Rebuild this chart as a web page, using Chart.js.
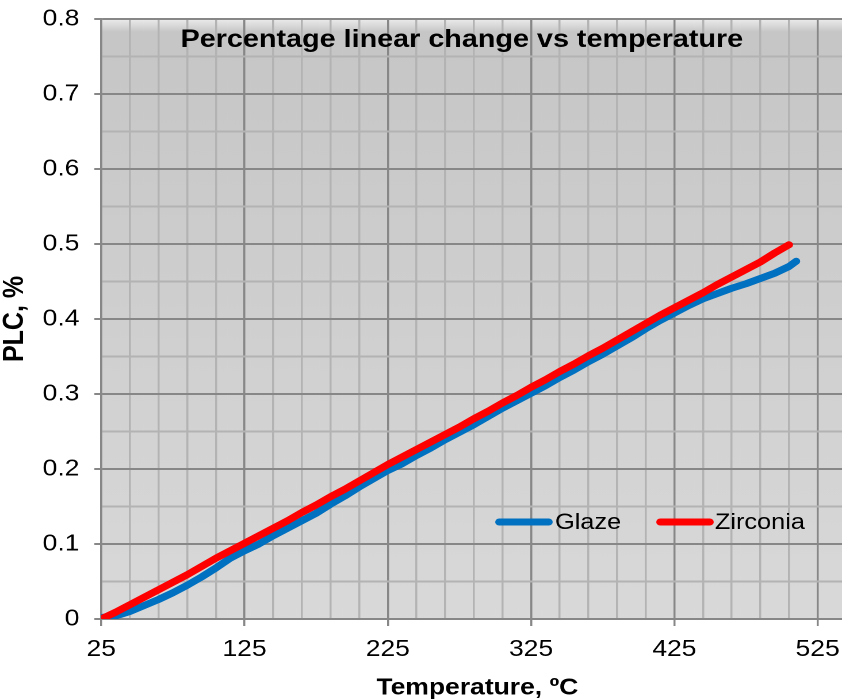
<!DOCTYPE html>
<html><head><meta charset="utf-8">
<script src="https://cdn.jsdelivr.net/npm/chart.js@4/dist/chart.umd.min.js"></script>
<style>html,body{margin:0;padding:0;background:#fff;overflow:hidden}canvas{display:block}</style>
</head><body>
<canvas id="c" width="732" height="699" style="width:842px;height:699px"></canvas>
<script>
const chartTitle = 'Percentage linear change vs temperature';
const xTitle = 'Temperature, ºC';
const yTitle = 'PLC, %';
const seriesNames = ['Glaze', 'Zirconia'];
const seriesColors = ['#0070C0', '#FF0000'];

const glazeTemp = [25,35,45,55,65,75,85,95,105,115,125,135,145,155,165,175,185,195,205,215,225,235,245,255,265,275,285,295,305,315,325,335,345,355,365,375,385,395,405,415,425,435,445,455,465,475,485,495,505,510];
const glazePLC  = [0.002,0.004,0.010,0.018,0.026,0.035,0.045,0.056,0.068,0.081,0.091,0.100,0.111,0.121,0.131,0.141,0.153,0.164,0.176,0.187,0.198,0.207,0.218,0.228,0.239,0.249,0.259,0.270,0.281,0.291,0.301,0.311,0.322,0.332,0.343,0.353,0.364,0.375,0.387,0.398,0.408,0.418,0.427,0.434,0.441,0.447,0.454,0.461,0.470,0.477];

const zirconiaTemp = [25,35,45,55,65,75,85,95,105,115,125,135,145,155,165,175,185,195,205,215,225,235,245,255,265,275,285,295,305,315,325,335,345,355,365,375,385,395,405,415,425,435,445,455,465,475,485,495,505];
const zirconiaPLC  = [0.000,0.009,0.019,0.029,0.039,0.049,0.059,0.070,0.081,0.091,0.101,0.111,0.121,0.131,0.142,0.152,0.163,0.173,0.184,0.195,0.206,0.216,0.226,0.236,0.246,0.256,0.267,0.277,0.288,0.298,0.309,0.319,0.330,0.340,0.351,0.361,0.372,0.383,0.394,0.405,0.415,0.425,0.435,0.446,0.456,0.466,0.476,0.488,0.499];

const xTicks = [25,45,65,85,105,125,145,165,185,205,225,245,265,285,305,325,345,365,385,405,425,445,465,485,505,525];
const xLabelTicks = [25,125,225,325,425,525];
const yTicks = [0,0.05,0.1,0.15,0.2,0.25,0.3,0.35,0.4,0.45,0.5,0.55,0.6,0.65,0.7,0.75,0.8];
const yLabelTicks = [0,0.1,0.2,0.3,0.4,0.5,0.6,0.7,0.8];

const FONT = "'Liberation Sans', Arial, sans-serif";
const MAJOR = '#878787', MINOR = '#b3b3b3';
const isXMajor = v => xLabelTicks.some(t => Math.abs(t - v) < 1e-6);
const isYMajor = v => yLabelTicks.some(t => Math.abs(t - v) < 1e-6);

const toPoints = (xs, ys) => xs.map((x, i) => ({x: x, y: ys[i]}));

const bgPlugin = {
  id: 'bg',
  beforeDraw(chart) {
    const {ctx, chartArea: a} = chart;
    const g = ctx.createLinearGradient(0, a.top, 0, a.bottom);
    g.addColorStop(0, '#ececec');
    g.addColorStop(0.022, '#c6c6c6');
    g.addColorStop(1, '#d9d9d9');
    ctx.save();
    ctx.fillStyle = g;
    ctx.fillRect(a.left, a.top, a.right - a.left, a.bottom - a.top);
    ctx.restore();
  }
};

const overlayPlugin = {
  id: 'overlay',
  afterDraw(chart) {
    const {ctx} = chart;
    ctx.save();
    // chart title
    ctx.fillStyle = '#000';
    ctx.font = "bold 25px " + FONT;
    ctx.textAlign = 'center';
    ctx.textBaseline = 'middle';
    ctx.fillText(chartTitle, 401.5, 40);
    // x axis title
    ctx.font = "bold 23px " + FONT;
    ctx.fillText(xTitle, 415, 688);
    // legend
    const legendY = 522;
    const entries = [{x0: 434, x1: 477, tx: 482.5}, {x0: 574, x1: 617, tx: 621.5}];
    chart.data.datasets.forEach((ds, i) => {
      const e = entries[i];
      ctx.strokeStyle = ds.borderColor;
      ctx.lineWidth = 7;
      ctx.lineCap = 'round';
      ctx.beginPath();
      ctx.moveTo(e.x0, legendY);
      ctx.lineTo(e.x1, legendY);
      ctx.stroke();
      ctx.fillStyle = '#000';
      ctx.font = "22px " + FONT;
      ctx.textAlign = 'left';
      ctx.textBaseline = 'middle';
      ctx.fillText(ds.label, e.tx, legendY + 1);
    });
    ctx.restore();
  }
};

new Chart(document.getElementById('c'), {
  type: 'line',
  data: {
    datasets: [
      {label: seriesNames[0], data: toPoints(glazeTemp, glazePLC), borderColor: seriesColors[0], backgroundColor: seriesColors[0], borderWidth: 7, pointRadius: 0, tension: 0, borderCapStyle: 'round', borderJoinStyle: 'round', order: 2},
      {label: seriesNames[1], data: toPoints(zirconiaTemp, zirconiaPLC), borderColor: seriesColors[1], backgroundColor: seriesColors[1], borderWidth: 7, pointRadius: 0, tension: 0, borderCapStyle: 'round', borderJoinStyle: 'round', order: 1}
    ]
  },
  options: {
    responsive: false,
    devicePixelRatio: 2,
    animation: false,
    layout: {padding: {top: 19, left: 0, right: 0, bottom: 0}},
    plugins: {legend: {display: false}, title: {display: false}, tooltip: {enabled: false}},
    scales: {
      x: {
        type: 'linear', min: 25, max: 542,
        afterBuildTicks: s => { s.ticks = xTicks.map(v => ({value: v})); },
        afterFit: s => { s.height = 80; s.paddingLeft = 0; s.paddingRight = 0; },
        ticks: {
          autoSkip: false, maxRotation: 0, padding: 10, color: '#000',
          font: {family: FONT, size: 23},
          callback: v => isXMajor(v) ? String(v) : ''
        },
        grid: {
          color: c => isXMajor(c.tick.value) ? MAJOR : MINOR,
          lineWidth: 1.75,
          tickLength: 7,
          tickColor: c => isXMajor(c.tick.value) ? MAJOR : 'rgba(0,0,0,0)',
          tickWidth: 1.75
        },
        border: {display: true, color: MAJOR, width: 2},
        title: {display: false}
      },
      y: {
        type: 'linear', min: 0, max: 0.8,
        afterBuildTicks: s => { s.ticks = yTicks.map(v => ({value: v})); },
        afterFit: s => { s.width = 88; s.paddingTop = 0; s.paddingBottom = 0; },
        ticks: {
          autoSkip: false, padding: 13, color: '#000',
          font: {family: FONT, size: 23},
          callback: v => isYMajor(v) ? String(Math.round(v * 10) / 10) : ''
        },
        grid: {
          color: c => isYMajor(c.tick.value) ? MAJOR : MINOR,
          lineWidth: 2,
          tickLength: 6,
          tickColor: c => isYMajor(c.tick.value) ? MAJOR : 'rgba(0,0,0,0)',
          tickWidth: 2
        },
        border: {display: true, color: MAJOR, width: 1.75},
        title: {display: true, text: yTitle, color: '#000', font: {family: FONT, size: 25, weight: 'bold', lineHeight: 1}, padding: {top: 0.5, bottom: 0}}
      }
    }
  },
  plugins: [bgPlugin, overlayPlugin]
});
</script>
</body></html>
